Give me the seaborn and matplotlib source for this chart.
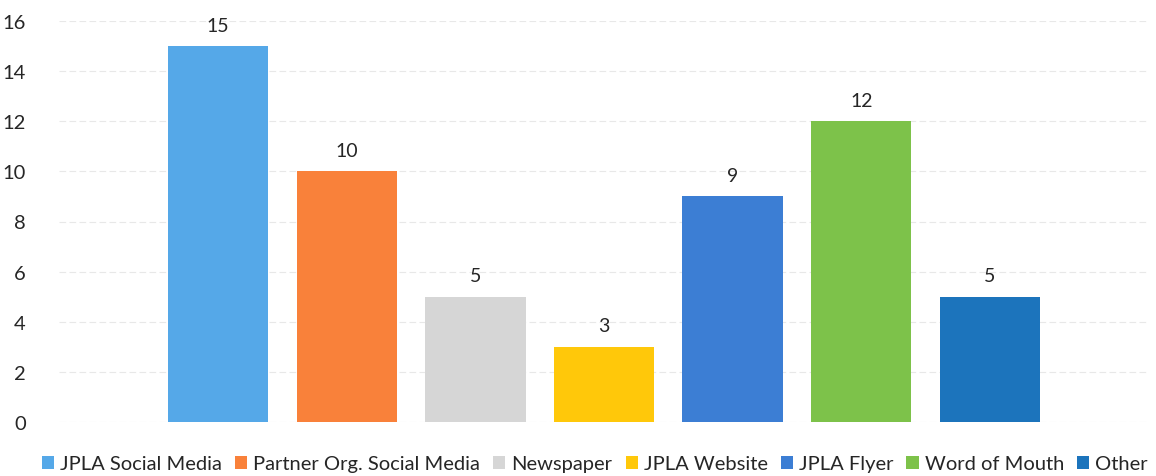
import matplotlib
matplotlib.use("Agg")
import matplotlib.pyplot as plt
import seaborn as sns
import pandas as pd

sources = ["JPLA Social Media", "Partner Org. Social Media", "Newspaper",
           "JPLA Website", "JPLA Flyer", "Word of Mouth", "Other"]
counts = [15, 10, 5, 3, 9, 12, 5]
colors = ["#55A8E8", "#F9813A", "#D6D6D6", "#FFC80A", "#3C7ED4", "#7DC24A", "#1C74BC"]
y_ticks = [0, 2, 4, 6, 8, 10, 12, 14, 16]

sns.set_theme(style="white")
plt.rcParams["font.family"] = ["Lato", "DejaVu Sans"]

df = pd.DataFrame({"group": [""] * len(sources), "source": sources, "count": counts})

fig = plt.figure(figsize=(11.56, 4.77), dpi=100)
ax = fig.add_axes([59 / 1156, 54 / 477, 1090 / 1156, 401 / 477])

sns.barplot(data=df, x="group", y="count", hue="source", hue_order=sources,
            palette=colors, width=0.826, gap=0.22, ax=ax, saturation=1,
            edgecolor="none", legend=True)

for cont in ax.containers:
    ax.bar_label(cont, fmt="%g", padding=9, fontsize=14, color="#262626")

ax.set_ylim(0, 16)
ax.set_xlim(-0.5, 0.5)
ax.set_yticks(y_ticks)
ax.set_yticklabels([str(t) for t in y_ticks], fontsize=14.5, color="#262626")
ax.tick_params(axis="y", length=0, pad=24)
ax.set_xticks([])
ax.set_xlabel("")
ax.set_ylabel("")
ax.grid(axis="y", color="#E8E8E8", linewidth=0.8, linestyle=(0, (6, 3)))
ax.set_axisbelow(True)
for s in ax.spines.values():
    s.set_visible(False)

handles, labels = ax.get_legend_handles_labels()
ax.legend_.remove()
fig.legend(handles, labels, loc="center", bbox_to_anchor=(595 / 1156, 12 / 477),
           ncol=len(sources), frameon=False, fontsize=14.5, handlelength=0.6,
           handleheight=0.6, handletextpad=0.3, columnspacing=0.65,
           labelcolor="#262626")

fig.savefig("out.png", dpi=100)
